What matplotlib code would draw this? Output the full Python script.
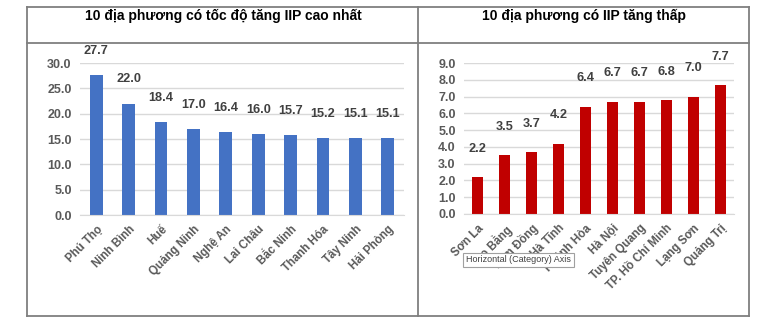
import matplotlib.pyplot as plt
from matplotlib.lines import Line2D

plt.rcParams['font.family'] = ['Liberation Sans', 'DejaVu Sans']

# data
top_names = ['Phú Thọ', 'Ninh Bình', 'Huế', 'Quảng Ninh', 'Nghệ An', 'Lai Châu',
             'Bắc Ninh', 'Thanh Hóa', 'Tây Ninh', 'Hải Phòng']
top_vals = [27.7, 22.0, 18.4, 17.0, 16.4, 16.0, 15.7, 15.2, 15.1, 15.1]

low_names = ['Sơn La', 'Cao Bằng', 'Lâm Đồng', 'Hà Tĩnh', 'Khánh Hòa', 'Hà Nội',
             'Tuyên Quang', 'TP. Hồ Chí Minh', 'Lạng Sơn', 'Quảng Trị']
low_vals = [2.2, 3.5, 3.7, 4.2, 6.4, 6.7, 6.7, 6.8, 7.0, 7.7]

W, H = 770, 324
fig = plt.figure(figsize=(W / 100, H / 100), dpi=100)


def fx(x):
    return x / W


def fy(y):
    return 1 - y / H


def style(ax, ticks):
    ax.set_yticks(ticks)
    ax.set_yticklabels(['%.1f' % t for t in ticks])
    ax.grid(axis='y', color='#d9d9d9', linewidth=1)
    ax.set_axisbelow(True)
    for s in ['top', 'right', 'left']:
        ax.spines[s].set_visible(False)
    ax.spines['bottom'].set_color('#d9d9d9')
    ax.tick_params(length=0, colors='#595959')
    ax.tick_params(axis='y', labelsize=9, pad=6)
    ax.tick_params(axis='x', labelsize=8.3, pad=6)
    for lab in ax.get_xticklabels() + ax.get_yticklabels():
        lab.set_fontweight('bold')


# left chart
ax1 = fig.add_axes([fx(80), fy(215), fx(404 - 80), (215 - 63) / H])
b1 = ax1.bar(range(len(top_vals)), top_vals, width=0.4, color='#4472c4')
ax1.set_xlim(-0.5, len(top_vals) - 0.5)
ax1.set_ylim(0, 30)
ax1.set_xticks(range(len(top_names)))
ax1.set_xticklabels(top_names, rotation=45, ha='right', rotation_mode='anchor')
style(ax1, [0, 5, 10, 15, 20, 25, 30])
ax1.bar_label(b1, labels=['%.1f' % v for v in top_vals], padding=13,
              fontsize=9.2, fontweight='bold', color='#404040')

# right chart
ax2 = fig.add_axes([fx(464), fy(214), fx(734 - 464), (214 - 63) / H])
b2 = ax2.bar(range(len(low_vals)), low_vals, width=0.4, color='#c00000')
ax2.set_xlim(-0.5, len(low_vals) - 0.5)
ax2.set_ylim(0, 9)
ax2.set_xticks(range(len(low_names)))
ax2.set_xticklabels(low_names, rotation=45, ha='right', rotation_mode='anchor')
style(ax2, list(range(10)))
ax2.bar_label(b2, labels=['%.1f' % v for v in low_vals], padding=16,
              fontsize=9.2, fontweight='bold', color='#404040')

# table frame
fc = '#7f7f7f'
for (x0, y0, x1, y1) in [(27, 7, 749, 7), (27, 316, 749, 316), (27, 43, 749, 43),
                         (27, 7, 27, 316), (418, 7, 418, 316), (749, 7, 749, 316)]:
    fig.add_artist(Line2D([fx(x0), fx(x1)], [fy(y0), fy(y1)], color=fc, linewidth=1.3))

fig.text(fx(223), fy(16), '10 địa phương có tốc độ tăng IIP cao nhất',
         ha='center', va='center', fontsize=10, fontweight='bold', color='black')
fig.text(fx(584), fy(16), '10 địa phương có IIP tăng thấp',
         ha='center', va='center', fontsize=10, fontweight='bold', color='black')

# tooltip left over from the screenshot
fig.text(fx(466), fy(260), 'Horizontal (Category) Axis', ha='left', va='center',
         fontsize=6.5, color='#404040', zorder=10,
         bbox=dict(boxstyle='square,pad=0.3', fc='white', ec='#a0a0a0', lw=0.8))

fig.savefig('out.png', dpi=100)
